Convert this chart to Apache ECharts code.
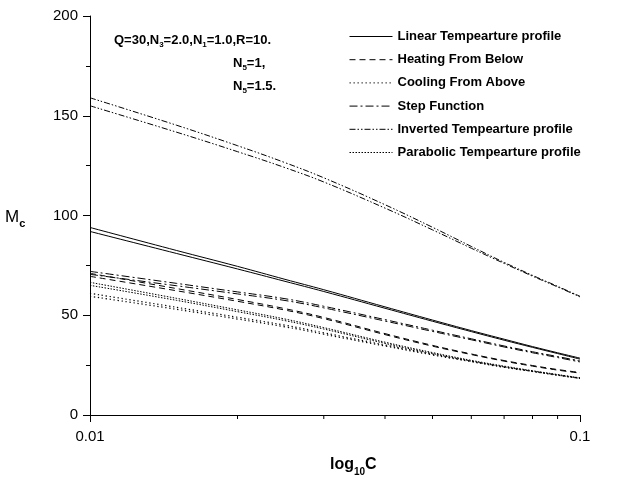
<!DOCTYPE html>
<html>
<head>
<meta charset="utf-8">
<script src="https://cdn.jsdelivr.net/npm/echarts@6/dist/echarts.min.js"></script>
<style>html,body{margin:0;padding:0;background:#fff}#c{width:624px;height:482px}</style>
</head>
<body>
<div id="c"></div>
<script>
// ---- data ----
const cValues = [0.01, 0.015, 0.02, 0.025, 0.03, 0.04, 0.05, 0.06, 0.07, 0.08, 0.09, 0.1];
const linearN1   = [94, 82.5, 74.5, 68, 62.8, 54.2, 47.6, 42.3, 38, 34.3, 31.2, 28.5];
const linearN15  = [92, 81, 73.2, 67, 61.9, 53.5, 47, 41.8, 37.5, 33.9, 30.8, 28];
const heatingN1  = [71, 63.4, 57.9, 53.3, 48.9, 40.8, 34.9, 30.6, 27.3, 24.8, 22.8, 21.3];
const heatingN15 = [69.5, 62.3, 57, 52.6, 48.3, 40.3, 34.5, 30.3, 27, 24.5, 22.5, 21];
const coolingN1  = [61, 54, 49, 45, 41.2, 35.1, 30.5, 27, 24.2, 22, 20.1, 18.5];
const coolingN15 = [59.5, 53, 48.1, 44.2, 40.5, 34.6, 30.1, 26.7, 23.9, 21.8, 19.9, 18.4];
const stepN1     = [72, 66, 61.7, 58.3, 54.5, 47.8, 42.5, 38.2, 34.6, 31.7, 29.3, 27.1];
const stepN15    = [70.5, 64.8, 60.7, 57.4, 53.7, 47.1, 41.9, 37.7, 34.1, 31.2, 28.8, 26.6];
const invertedN1 = [159, 145.3, 135, 126.5, 118.9, 105.4, 94.1, 84.5, 76.5, 70, 64.5, 59.5];
const invertedN15= [155, 141.8, 132, 124, 116.8, 103.7, 92.8, 83.6, 76, 69.6, 64.2, 59.2];
const parabolicN1  = [66.5, 58.5, 52.7, 48.1, 43.8, 36.5, 31.3, 27.4, 24.5, 22.2, 20.3, 18.6];
const parabolicN15 = [65, 57.5, 51.8, 47.3, 43.1, 35.9, 30.8, 27, 24.1, 21.9, 20, 18.3];
const seriesNames = ['Linear Tempearture profile', 'Heating From Below', 'Cooling From Above',
  'Step Function', 'Inverted Tempearture profile', 'Parabolic Tempearture profile'];
const xTickLabels = ['0.01', '0.1'];
const xMinorTicks = [0.02, 0.03, 0.04, 0.05, 0.06, 0.07, 0.08, 0.09];
const yTicks = [0, 50, 100, 150, 200];

// ---- styles ----
const dashTypes = ['solid', [6, 4], [1.3, 2.7], [8, 3, 2, 3], [6, 2, 1.5, 2, 1.5, 2], [1.5, 1.5]];
const lineWidths = [1, 1, 1.2, 1, 1, 1];
const pairs = [[linearN1, linearN15], [heatingN1, heatingN15], [coolingN1, coolingN15],
  [stepN1, stepN15], [invertedN1, invertedN15], [parabolicN1, parabolicN15]];

const series = [];
pairs.forEach((pr, i) => {
  pr.forEach(arr => {
    series.push({
      name: seriesNames[i], type: 'line', symbol: 'none', smooth: 0.4,
      data: cValues.map((c, k) => [c, arr[k]]),
      lineStyle: { color: '#000', width: lineWidths[i], type: dashTypes[i] },
      itemStyle: { color: '#000' },
      emphasis: { disabled: true }, animation: false
    });
  });
});
series.push({
  type: 'custom', silent: true, animation: false, clip: false,
  data: xMinorTicks.map(v => [v, 0]),
  renderItem: (params, api) => {
    const p = api.coord([api.value(0), 0]);
    return { type: 'line', shape: { x1: p[0], y1: p[1], x2: p[0], y2: p[1] + 4 },
      style: { stroke: '#000', lineWidth: 1 } };
  }
});

const FONT = 'Liberation Sans, Arial, sans-serif';
const subStyle = sz => ({ fontSize: sz, fontWeight: 'bold', fontFamily: FONT, verticalAlign: 'bottom', lineHeight: 18 });
const chart = echarts.init(document.getElementById('c'));
chart.setOption({
  backgroundColor: '#fff',
  animation: false,
  grid: { left: 90, right: 44, top: 16, bottom: 67 },
  xAxis: {
    type: 'log', logBase: 10, min: 0.01, max: 0.1,
    axisLine: { show: true, lineStyle: { color: '#000', width: 1 } },
    axisTick: { show: true, length: 7, lineStyle: { color: '#000' } },
    splitLine: { show: false },
    axisLabel: { color: '#000', fontFamily: FONT, fontSize: 15, margin: 14,
      formatter: v => (Math.abs(v - 0.01) < 1e-9 ? xTickLabels[0] : (Math.abs(v - 0.1) < 1e-9 ? xTickLabels[1] : '')) }
  },
  yAxis: {
    type: 'value', min: yTicks[0], max: yTicks[yTicks.length - 1], interval: 50,
    axisLine: { show: true, lineStyle: { color: '#000', width: 1 } },
    axisTick: { show: true, length: 7, lineStyle: { color: '#000' } },
    minorTick: { show: true, splitNumber: 2, length: 4, lineStyle: { color: '#000' } },
    splitLine: { show: false },
    axisLabel: { color: '#000', fontFamily: FONT, fontSize: 15, margin: 12 }
  },
  legend: {
    data: seriesNames, orient: 'vertical', left: 344, top: 25,
    itemWidth: 43, itemHeight: 10, itemGap: 10.2,
    selectedMode: false,
    itemStyle: { opacity: 0 },
    lineStyle: { width: 1 },
    textStyle: { color: '#000', fontFamily: FONT, fontSize: 13, fontWeight: 'bold' }
  },
  graphic: [
    { type: 'text', left: 114, top: 31, silent: true,
      style: { text: 'Q=30,N{s|3}=2.0,N{s|1}=1.0,R=10.', font: 'bold 13px ' + FONT, fill: '#000',
        rich: { s: subStyle(8) }, lineHeight: 18, verticalAlign: 'top' } },
    { type: 'text', left: 233, top: 54, silent: true,
      style: { text: 'N{s|5}=1,', font: 'bold 13px ' + FONT, fill: '#000',
        rich: { s: subStyle(8) }, lineHeight: 18 } },
    { type: 'text', left: 233, top: 77, silent: true,
      style: { text: 'N{s|5}=1.5.', font: 'bold 13px ' + FONT, fill: '#000',
        rich: { s: subStyle(8) }, lineHeight: 18 } },
    { type: 'text', left: 5, top: 205, silent: true,
      style: { text: 'M{s|c}', font: '17px ' + FONT, fill: '#000',
        rich: { s: { fontSize: 11, fontWeight: 'bold', fontFamily: FONT, verticalAlign: 'bottom', lineHeight: 24 } },
        lineHeight: 24 } },
    { type: 'text', left: 330, top: 453, silent: true,
      style: { text: 'log{s|10}C', font: 'bold 16px ' + FONT, fill: '#000',
        rich: { s: { fontSize: 10, fontWeight: 'bold', fontFamily: FONT, verticalAlign: 'bottom', lineHeight: 24 } },
        lineHeight: 24 } }
  ],
  series: series
});
</script>
</body>
</html>
